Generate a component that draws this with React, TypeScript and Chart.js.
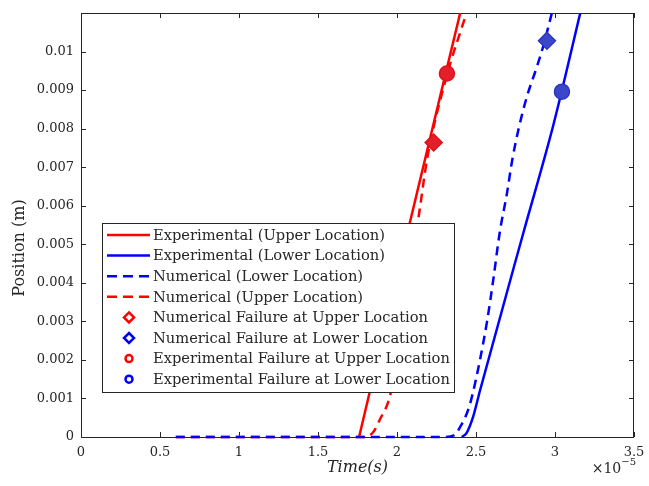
import React, { useEffect, useRef } from 'react';
import { Chart, registerables } from 'chart.js';

Chart.register(...registerables);

// ---- axis ticks ----
const xTicks = [0, 0.5e-5, 1e-5, 1.5e-5, 2e-5, 2.5e-5, 3e-5, 3.5e-5];
const xTickLabels = ['0', '0.5', '1', '1.5', '2', '2.5', '3', '3.5'];
const yTicks = [0, 0.001, 0.002, 0.003, 0.004, 0.005, 0.006, 0.007, 0.008, 0.009, 0.01];
const yTickLabels = ['0', '0.001', '0.002', '0.003', '0.004', '0.005', '0.006', '0.007', '0.008', '0.009', '0.01'];

// ---- series (time in s, position in m) ----
const expUpperT = [1.76e-5, 2.08e-5, 2.4e-5];
const expUpperP = [0, 0.00554, 0.011];

const expLowerT = [2.41e-5, 2.44e-5, 2.48e-5, 2.525e-5, 2.8e-5, 2.99e-5, 3.16e-5];
const expLowerP = [0, 0.0001, 0.0005, 0.0012, 0.0053, 0.0081, 0.011];

const numLowerT = [0.6e-5, 2.3e-5, 2.36e-5, 2.4e-5, 2.45e-5, 2.48e-5, 2.525e-5, 2.57e-5, 2.61e-5, 2.65e-5, 2.695e-5, 2.73e-5, 2.77e-5, 2.82e-5, 2.885e-5, 2.93e-5, 2.98e-5];
const numLowerP = [0, 0, 0.00004, 0.00026, 0.0007, 0.00114, 0.002, 0.003, 0.0041, 0.0053, 0.0063, 0.0072, 0.0080, 0.0088, 0.0096, 0.0102, 0.011];

const numUpperT = [0.6e-5, 1.8e-5, 1.85e-5, 1.89e-5, 1.96e-5, 2.14e-5, 2.19e-5, 2.31e-5, 2.44e-5];
const numUpperP = [0, 0, 0.00013, 0.00044, 0.00114, 0.0058, 0.0072, 0.0093, 0.011];

const numFailUpper = { t: 2.232e-5, p: 0.00764 };
const numFailLower = { t: 2.949e-5, p: 0.01028 };
const expFailUpper = { t: 2.316e-5, p: 0.00943 };
const expFailLower = { t: 3.044e-5, p: 0.00896 };

const RED = '#ff0000';
const BLUE = '#0000ff';
const AXIS = '#262626';
const FONT = '"DejaVu Serif", serif';

const toPts = (t: number[], p: number[]) => t.map((v, i) => ({ x: v, y: p[i] }));

type LegendSpec = { label: string; kind: 'line' | 'diamond' | 'circle'; color: string; dash: number[] };

const legendSpecs: LegendSpec[] = [
  { label: 'Experimental (Upper Location)', kind: 'line', color: RED, dash: [] },
  { label: 'Experimental (Lower Location)', kind: 'line', color: BLUE, dash: [] },
  { label: 'Numerical (Lower Location)', kind: 'line', color: BLUE, dash: [10, 6] },
  { label: 'Numerical (Upper Location)', kind: 'line', color: RED, dash: [10, 6] },
  { label: 'Numerical Failure at Upper Location', kind: 'diamond', color: RED, dash: [] },
  { label: 'Numerical Failure at Lower Location', kind: 'diamond', color: BLUE, dash: [] },
  { label: 'Experimental Failure at Upper Location', kind: 'circle', color: RED, dash: [] },
  { label: 'Experimental Failure at Lower Location', kind: 'circle', color: BLUE, dash: [] },
];

const framePlugin = {
  id: 'frame',
  beforeDatasetsDraw(chart: any) {
    const { ctx, chartArea: a, scales } = chart;
    ctx.save();
    ctx.strokeStyle = AXIS;
    ctx.lineWidth = 1;
    ctx.strokeRect(Math.round(a.left) + 0.5, Math.round(a.top) + 0.5, Math.round(a.right - a.left) - 1, Math.round(a.bottom - a.top));
    const tl = 5;
    ctx.beginPath();
    xTicks.forEach((v) => {
      const px = Math.round(scales.x.getPixelForValue(v)) + 0.5;
      ctx.moveTo(px, a.bottom);
      ctx.lineTo(px, a.bottom - tl);
      ctx.moveTo(px, a.top);
      ctx.lineTo(px, a.top + tl);
    });
    yTicks.forEach((v) => {
      const py = Math.round(scales.y.getPixelForValue(v)) + 0.5;
      ctx.moveTo(a.left, py);
      ctx.lineTo(a.left + tl, py);
      ctx.moveTo(a.right, py);
      ctx.lineTo(a.right - tl, py);
    });
    ctx.stroke();
    ctx.restore();
  },
  afterDraw(chart: any) {
    const { ctx, chartArea: a } = chart;
    ctx.save();
    // axis titles
    ctx.fillStyle = AXIS;
    ctx.textAlign = 'center';
    ctx.textBaseline = 'middle';
    ctx.font = `italic 16px ${FONT}`;
    ctx.fillText('Time(s)', (a.left + a.right) / 2, 468);
    ctx.save();
    ctx.translate(20, 248);
    ctx.rotate(-Math.PI / 2);
    ctx.font = `16px ${FONT}`;
    ctx.fillText('Position (m)', 0, 0);
    ctx.restore();
    // exponent
    ctx.textAlign = 'left';
    ctx.font = `10px ${FONT}`;
    const supW = ctx.measureText('\u22125').width;
    ctx.font = `14px ${FONT}`;
    const baseW = ctx.measureText('\u00d710').width;
    const right = 636;
    const bx = right - supW - baseW;
    ctx.fillText('\u00d710', bx, 469);
    ctx.font = `10px ${FONT}`;
    ctx.fillText('\u22125', bx + baseW, 462);

    // legend
    const lx = 102, ly = 223, lw = 352, lh = 169;
    ctx.fillStyle = '#ffffff';
    ctx.fillRect(lx, ly, lw, lh);
    ctx.strokeStyle = AXIS;
    ctx.lineWidth = 1;
    ctx.strokeRect(lx + 0.5, ly + 0.5, lw, lh);
    // font size fitted so the longest label spans the legend width
    let fs = 14;
    ctx.font = `${fs}px ${FONT}`;
    const longest = Math.max(...legendSpecs.map((s) => ctx.measureText(s.label).width));
    fs = (fs * 297) / longest;
    ctx.font = `${fs}px ${FONT}`;
    legendSpecs.forEach((s, i) => {
      const cy = ly + 12 + i * 20.6;
      ctx.save();
      if (s.kind === 'line') {
        ctx.strokeStyle = s.color;
        ctx.lineWidth = 2.5;
        ctx.setLineDash(s.dash);
        ctx.beginPath();
        ctx.moveTo(lx + 5, cy);
        ctx.lineTo(lx + 48, cy);
        ctx.stroke();
      } else if (s.kind === 'diamond') {
        const cx = lx + 27, r = 5;
        ctx.strokeStyle = s.color;
        ctx.lineWidth = 2.5;
        ctx.fillStyle = '#fff';
        ctx.beginPath();
        ctx.moveTo(cx, cy - r);
        ctx.lineTo(cx + r, cy);
        ctx.lineTo(cx, cy + r);
        ctx.lineTo(cx - r, cy);
        ctx.closePath();
        ctx.fill();
        ctx.stroke();
      } else {
        const cx = lx + 27;
        ctx.strokeStyle = s.color;
        ctx.lineWidth = 2.5;
        ctx.fillStyle = '#fff';
        ctx.beginPath();
        ctx.arc(cx, cy, 3.5, 0, Math.PI * 2);
        ctx.fill();
        ctx.stroke();
      }
      ctx.restore();
      ctx.fillStyle = AXIS;
      ctx.textAlign = 'left';
      ctx.textBaseline = 'middle';
      ctx.fillText(s.label, lx + 51, cy + 1);
    });
    ctx.restore();
  },
};

export default function App() {
  const ref = useRef<HTMLCanvasElement | null>(null);

  useEffect(() => {
    if (!ref.current) return;
    const lineClip = { left: 0, top: 0, right: 0, bottom: 4 };
    const lineCommon = {
      borderWidth: 2.5,
      pointRadius: 0,
      cubicInterpolationMode: 'monotone',
      clip: lineClip,
    };
    const chart = new Chart(ref.current, {
      type: 'line',
      data: {
        datasets: [
          {
            label: 'Experimental Failure at Lower Location',
            data: [{ x: expFailLower.t, y: expFailLower.p }],
            showLine: false,
            pointStyle: 'circle',
            pointRadius: 7.5,
            backgroundColor: '#3b47c8',
            borderColor: '#2a36c4',
            borderWidth: 1.5,
            order: 0,
          },
          {
            label: 'Experimental Failure at Upper Location',
            data: [{ x: expFailUpper.t, y: expFailUpper.p }],
            showLine: false,
            pointStyle: 'circle',
            pointRadius: 7.5,
            backgroundColor: '#e41f2a',
            borderColor: '#e0101c',
            borderWidth: 1.5,
            order: 0,
          },
          {
            label: 'Numerical Failure at Lower Location',
            data: [{ x: numFailLower.t, y: numFailLower.p }],
            showLine: false,
            pointStyle: 'rectRot',
            pointRadius: 8.5,
            backgroundColor: '#3b47c8',
            borderColor: '#2a36c4',
            borderWidth: 1.5,
            order: 0,
          },
          {
            label: 'Numerical Failure at Upper Location',
            data: [{ x: numFailUpper.t, y: numFailUpper.p }],
            showLine: false,
            pointStyle: 'rectRot',
            pointRadius: 8.5,
            backgroundColor: '#e41f2a',
            borderColor: '#e0101c',
            borderWidth: 1.5,
            order: 0,
          },
          {
            ...lineCommon,
            label: 'Numerical (Lower Location)',
            data: toPts(numLowerT, numLowerP),
            borderColor: BLUE,
            borderDash: [9, 6],
            order: 1,
          },
          {
            ...lineCommon,
            label: 'Numerical (Upper Location)',
            data: toPts(numUpperT, numUpperP),
            borderColor: RED,
            borderDash: [9, 6],
            order: 2,
          },
          {
            ...lineCommon,
            label: 'Experimental (Lower Location)',
            data: toPts(expLowerT, expLowerP),
            borderColor: BLUE,
            order: 3,
          },
          {
            ...lineCommon,
            label: 'Experimental (Upper Location)',
            data: toPts(expUpperT, expUpperP),
            borderColor: RED,
            order: 4,
          },
        ],
      },
      options: {
        responsive: false,
        animation: false,
        events: [],
        layout: { padding: { top: 13, right: 15, left: 0, bottom: 0 } },
        plugins: { legend: { display: false }, tooltip: { enabled: false } },
        scales: {
          x: {
            type: 'linear',
            min: 0,
            max: 3.5e-5,
            grid: { display: false, drawTicks: false },
            border: { display: false },
            afterBuildTicks: (s: any) => {
              s.ticks = xTicks.map((v) => ({ value: v }));
            },
            afterFit: (s: any) => {
              s.height = 49;
              s.paddingLeft = 0;
              s.paddingRight = 0;
            },
            ticks: {
              autoSkip: false,
              maxRotation: 0,
              padding: 8,
              color: AXIS,
              font: { family: FONT, size: 13 },
              callback: (_v: any, i: number) => xTickLabels[i],
            },
          },
          y: {
            type: 'linear',
            min: 0,
            max: 0.011,
            grid: { display: false, drawTicks: false },
            border: { display: false },
            afterBuildTicks: (s: any) => {
              s.ticks = yTicks.map((v) => ({ value: v }));
            },
            afterFit: (s: any) => {
              s.width = 81;
              s.paddingTop = 0;
              s.paddingBottom = 0;
            },
            ticks: {
              autoSkip: false,
              padding: 7,
              color: AXIS,
              font: { family: FONT, size: 13 },
              callback: (_v: any, i: number) => yTickLabels[i],
            },
          },
        },
      },
      plugins: [framePlugin],
    } as any);
    return () => chart.destroy();
  }, []);

  return (
    <div style={{ position: 'absolute', left: 0, top: 0, width: 649, height: 486, background: '#fff' }}>
      <canvas ref={ref} width={649} height={486} style={{ width: 649, height: 486, display: 'block' }} />
    </div>
  );
}
